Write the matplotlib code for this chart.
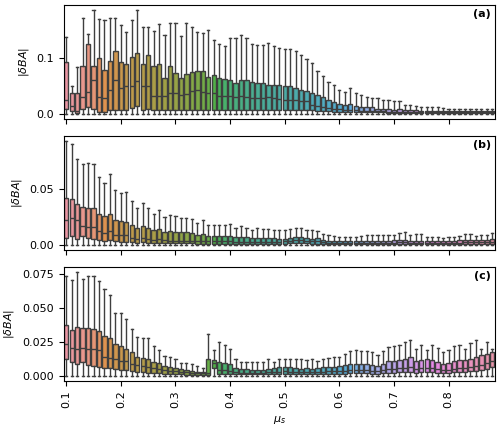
import matplotlib
matplotlib.use("Agg")
import matplotlib.pyplot as plt
import numpy as np
import seaborn as sns

# mu_s categories, 0.10 ... 0.88
mu_s = [f"{0.10 + 0.01 * i:.2f}" for i in range(79)]
tick_every = 10

# panel (a)
whishi_a = [0.138, 0.049, 0.083, 0.171, 0.143, 0.186, 0.170, 0.168, 0.171, 0.171,
            0.159, 0.146, 0.167, 0.186, 0.155, 0.156, 0.149, 0.160, 0.141, 0.162,
            0.162, 0.140, 0.162, 0.155, 0.146, 0.144, 0.150, 0.132, 0.125, 0.121,
            0.135, 0.135, 0.141, 0.135, 0.125, 0.123, 0.123, 0.126, 0.122, 0.118,
            0.116, 0.116, 0.113, 0.105, 0.098, 0.091, 0.076, 0.067, 0.057, 0.052,
            0.042, 0.039, 0.045, 0.036, 0.033, 0.029, 0.028, 0.027, 0.024, 0.024,
            0.022, 0.023, 0.016, 0.015, 0.013, 0.012, 0.012, 0.011, 0.011, 0.010,
            0.009, 0.009, 0.009, 0.008, 0.008, 0.008, 0.008, 0.008, 0.008]
q3_a = [0.092, 0.036, 0.036, 0.085, 0.125, 0.086, 0.099, 0.079, 0.095, 0.112,
        0.093, 0.088, 0.102, 0.108, 0.089, 0.105, 0.085, 0.088, 0.063, 0.086,
        0.073, 0.064, 0.071, 0.074, 0.077, 0.076, 0.065, 0.070, 0.064, 0.062,
        0.061, 0.055, 0.061, 0.061, 0.057, 0.054, 0.054, 0.052, 0.052, 0.051,
        0.049, 0.049, 0.046, 0.043, 0.040, 0.037, 0.034, 0.029, 0.024, 0.021,
        0.018, 0.016, 0.018, 0.013, 0.012, 0.011, 0.011, 0.009, 0.008, 0.008,
        0.007, 0.008, 0.006, 0.006, 0.006, 0.005, 0.005, 0.005, 0.005, 0.005,
        0.005, 0.005, 0.004, 0.004, 0.004, 0.004, 0.004, 0.004, 0.004]
med_a = [0.025, 0.013, 0.004, 0.029, 0.039, 0.061, 0.029, 0.028, 0.043, 0.060,
         0.046, 0.049, 0.049, 0.058, 0.049, 0.049, 0.032, 0.032, 0.032, 0.036,
         0.037, 0.033, 0.035, 0.040, 0.042, 0.039, 0.037, 0.036, 0.031, 0.031,
         0.031, 0.030, 0.031, 0.029, 0.028, 0.027, 0.027, 0.029, 0.027, 0.026,
         0.025, 0.025, 0.024, 0.023, 0.022, 0.016, 0.013, 0.012, 0.010, 0.008,
         0.008, 0.007, 0.007, 0.006, 0.005, 0.004, 0.004, 0.004, 0.004, 0.003,
         0.003, 0.003, 0.003, 0.003, 0.003, 0.003, 0.003, 0.003, 0.003, 0.003,
         0.002, 0.002, 0.002, 0.002, 0.002, 0.002, 0.002, 0.002, 0.002]
q1_a = [0.008, 0.004, 0.001, 0.008, 0.011, 0.009, 0.003, 0.003, 0.007, 0.007,
        0.007, 0.006, 0.010, 0.013, 0.007, 0.009, 0.006, 0.006, 0.006, 0.006,
        0.007, 0.007, 0.007, 0.007, 0.007, 0.007, 0.007, 0.007, 0.007, 0.007,
        0.007, 0.007, 0.007, 0.007, 0.007, 0.007, 0.007, 0.007, 0.007, 0.007,
        0.007, 0.007, 0.007, 0.007, 0.007, 0.006, 0.005, 0.004, 0.004, 0.003,
        0.003, 0.003, 0.003, 0.002, 0.002, 0.002, 0.002, 0.002, 0.002, 0.001,
        0.001, 0.001, 0.001, 0.001, 0.001, 0.001, 0.001, 0.001, 0.001, 0.001,
        0.001, 0.001, 0.001, 0.001, 0.001, 0.001, 0.001, 0.001, 0.001]

# panel (b)
whishi_b = [0.0937, 0.0907, 0.0771, 0.0732, 0.0738, 0.0732, 0.0611, 0.0560, 0.0636, 0.0491,
            0.0470, 0.0476, 0.0392, 0.0334, 0.0380, 0.0331, 0.0280, 0.0310, 0.0250, 0.0265,
            0.0256, 0.0244, 0.0244, 0.0235, 0.0199, 0.0226, 0.0175, 0.0175, 0.0175, 0.0175,
            0.0184, 0.0154, 0.0166, 0.0154, 0.0130, 0.0151, 0.0145, 0.0145, 0.0130, 0.0130,
            0.0130, 0.0145, 0.0151, 0.0151, 0.0136, 0.0130, 0.0123, 0.0093, 0.0084, 0.0075,
            0.0069, 0.0069, 0.0069, 0.0069, 0.0075, 0.0084, 0.0084, 0.0084, 0.0084, 0.0084,
            0.0090, 0.0105, 0.0114, 0.0084, 0.0099, 0.0093, 0.0069, 0.0069, 0.0069, 0.0063,
            0.0069, 0.0069, 0.0075, 0.0093, 0.0093, 0.0075, 0.0084, 0.0084, 0.0108]
q3_b = [0.0425, 0.0416, 0.0364, 0.0340, 0.0331, 0.0331, 0.0274, 0.0256, 0.0274, 0.0226,
        0.0214, 0.0205, 0.0175, 0.0151, 0.0169, 0.0151, 0.0136, 0.0139, 0.0114, 0.0123,
        0.0114, 0.0111, 0.0114, 0.0105, 0.0087, 0.0099, 0.0078, 0.0078, 0.0078, 0.0078,
        0.0081, 0.0069, 0.0069, 0.0069, 0.0057, 0.0063, 0.0063, 0.0063, 0.0063, 0.0054,
        0.0054, 0.0063, 0.0069, 0.0069, 0.0063, 0.0054, 0.0063, 0.0039, 0.0030, 0.0030,
        0.0030, 0.0030, 0.0030, 0.0030, 0.0030, 0.0033, 0.0033, 0.0033, 0.0033, 0.0033,
        0.0039, 0.0045, 0.0039, 0.0030, 0.0033, 0.0033, 0.0030, 0.0030, 0.0030, 0.0030,
        0.0030, 0.0030, 0.0039, 0.0045, 0.0039, 0.0039, 0.0039, 0.0039, 0.0054]
med_b = [0.0226, 0.0241, 0.0220, 0.0169, 0.0160, 0.0160, 0.0120, 0.0105, 0.0120, 0.0090,
         0.0084, 0.0084, 0.0060, 0.0048, 0.0063, 0.0048, 0.0039, 0.0048, 0.0039, 0.0036,
         0.0035, 0.0035, 0.0034, 0.0033, 0.0030, 0.0032, 0.0030, 0.0030, 0.0029, 0.0029,
         0.0029, 0.0028, 0.0028, 0.0027, 0.0026, 0.0026, 0.0026, 0.0025, 0.0025, 0.0025,
         0.0030, 0.0035, 0.0040, 0.0040, 0.0035, 0.0030, 0.0030, 0.0020, 0.0015, 0.0015,
         0.0015, 0.0015, 0.0015, 0.0015, 0.0015, 0.0015, 0.0015, 0.0015, 0.0015, 0.0015,
         0.0018, 0.0022, 0.0020, 0.0015, 0.0015, 0.0015, 0.0015, 0.0015, 0.0015, 0.0015,
         0.0015, 0.0015, 0.0018, 0.0020, 0.0020, 0.0020, 0.0020, 0.0020, 0.0025]
q1_b = [0.0063, 0.0075, 0.0048, 0.0075, 0.0063, 0.0054, 0.0039, 0.0033, 0.0039, 0.0030,
        0.0025, 0.0025, 0.0020, 0.0018, 0.0020, 0.0018, 0.0015, 0.0015, 0.0013, 0.0012,
        0.0012, 0.0012, 0.0011, 0.0011, 0.0010, 0.0010, 0.0010, 0.0010, 0.0010, 0.0010,
        0.0010, 0.0010, 0.0009, 0.0009, 0.0009, 0.0009, 0.0009, 0.0009, 0.0009, 0.0009,
        0.0010, 0.0012, 0.0012, 0.0012, 0.0012, 0.0010, 0.0010, 0.0008, 0.0006, 0.0006,
        0.0006, 0.0006, 0.0006, 0.0006, 0.0006, 0.0006, 0.0006, 0.0006, 0.0006, 0.0006,
        0.0007, 0.0008, 0.0008, 0.0006, 0.0006, 0.0006, 0.0006, 0.0006, 0.0006, 0.0006,
        0.0006, 0.0006, 0.0007, 0.0008, 0.0008, 0.0008, 0.0008, 0.0008, 0.0010]

# panel (c)
whishi_c = [0.0735, 0.0708, 0.0765, 0.0716, 0.0735, 0.0735, 0.0699, 0.0637, 0.0593, 0.0466,
            0.0466, 0.0422, 0.0343, 0.0287, 0.0275, 0.0275, 0.0218, 0.0189, 0.0145, 0.0140,
            0.0120, 0.0096, 0.0096, 0.0083, 0.0071, 0.0054, 0.0311, 0.0189, 0.0250, 0.0230,
            0.0194, 0.0123, 0.0098, 0.0098, 0.0098, 0.0103, 0.0103, 0.0123, 0.0103, 0.0127,
            0.0123, 0.0127, 0.0123, 0.0120, 0.0115, 0.0123, 0.0108, 0.0120, 0.0132, 0.0140,
            0.0140, 0.0159, 0.0184, 0.0189, 0.0184, 0.0181, 0.0176, 0.0152, 0.0184, 0.0213,
            0.0218, 0.0225, 0.0250, 0.0262, 0.0201, 0.0225, 0.0189, 0.0230, 0.0208, 0.0176,
            0.0189, 0.0218, 0.0225, 0.0194, 0.0243, 0.0262, 0.0201, 0.0250, 0.0201]
q3_c = [0.0377, 0.0341, 0.0360, 0.0353, 0.0353, 0.0343, 0.0328, 0.0292, 0.0275, 0.0233,
        0.0218, 0.0201, 0.0172, 0.0140, 0.0132, 0.0127, 0.0103, 0.0091, 0.0071, 0.0061,
        0.0059, 0.0047, 0.0042, 0.0037, 0.0029, 0.0029, 0.0127, 0.0115, 0.0098, 0.0091,
        0.0083, 0.0054, 0.0047, 0.0047, 0.0042, 0.0042, 0.0042, 0.0047, 0.0054, 0.0061,
        0.0066, 0.0061, 0.0054, 0.0049, 0.0054, 0.0049, 0.0054, 0.0061, 0.0066, 0.0066,
        0.0071, 0.0078, 0.0083, 0.0083, 0.0083, 0.0083, 0.0078, 0.0071, 0.0083, 0.0108,
        0.0108, 0.0115, 0.0120, 0.0135, 0.0108, 0.0115, 0.0123, 0.0115, 0.0103, 0.0083,
        0.0091, 0.0108, 0.0115, 0.0115, 0.0127, 0.0140, 0.0152, 0.0159, 0.0176]
med_c = [0.0233, 0.0208, 0.0201, 0.0208, 0.0201, 0.0194, 0.0189, 0.0135, 0.0132, 0.0123,
         0.0108, 0.0108, 0.0083, 0.0078, 0.0074, 0.0061, 0.0054, 0.0049, 0.0042, 0.0037,
         0.0034, 0.0029, 0.0025, 0.0022, 0.0017, 0.0017, 0.0020, 0.0095, 0.0040, 0.0040,
         0.0035, 0.0025, 0.0022, 0.0022, 0.0022, 0.0022, 0.0022, 0.0025, 0.0028, 0.0030,
         0.0032, 0.0030, 0.0028, 0.0026, 0.0028, 0.0026, 0.0028, 0.0030, 0.0032, 0.0032,
         0.0034, 0.0038, 0.0040, 0.0040, 0.0040, 0.0040, 0.0038, 0.0035, 0.0040, 0.0050,
         0.0050, 0.0055, 0.0058, 0.0062, 0.0050, 0.0055, 0.0058, 0.0055, 0.0048, 0.0040,
         0.0045, 0.0052, 0.0055, 0.0055, 0.0065, 0.0070, 0.0078, 0.0095, 0.0110]
q1_c = [0.0120, 0.0098, 0.0086, 0.0103, 0.0078, 0.0071, 0.0066, 0.0054, 0.0054, 0.0049,
        0.0042, 0.0042, 0.0034, 0.0029, 0.0025, 0.0022, 0.0020, 0.0018, 0.0015, 0.0012,
        0.0010, 0.0010, 0.0008, 0.0008, 0.0006, 0.0006, 0.0005, 0.0060, 0.0015, 0.0015,
        0.0012, 0.0010, 0.0010, 0.0010, 0.0010, 0.0010, 0.0010, 0.0011, 0.0012, 0.0012,
        0.0013, 0.0012, 0.0012, 0.0011, 0.0012, 0.0011, 0.0012, 0.0013, 0.0014, 0.0014,
        0.0015, 0.0016, 0.0017, 0.0017, 0.0017, 0.0017, 0.0016, 0.0015, 0.0017, 0.0022,
        0.0022, 0.0025, 0.0027, 0.0030, 0.0022, 0.0025, 0.0027, 0.0025, 0.0021, 0.0017,
        0.0020, 0.0025, 0.0027, 0.0027, 0.0032, 0.0036, 0.0042, 0.0050, 0.0066]

panels = [
    ("(a)", whishi_a, q3_a, med_a, q1_a, [0.0, 0.1], "{:.1f}"),
    ("(b)", whishi_b, q3_b, med_b, q1_b, [0.0, 0.05], "{:.2f}"),
    ("(c)", whishi_c, q3_c, med_c, q1_c, [0.0, 0.025, 0.05, 0.075], "{:.3f}"),
]

palette = [sns.desaturate(c, 0.75) for c in sns.husl_palette(len(mu_s), l=0.7)]
line_col = "#3f3f3f"

plt.rcParams["font.size"] = 8
fig, axes = plt.subplots(3, 1, figsize=(5, 4.28), dpi=100, sharex=True)
fig.subplots_adjust(left=0.127, right=0.99, top=0.989, bottom=0.11, hspace=0.15)

for ax, (tag, whi, q3, med, q1, yt, fmt) in zip(axes, panels):
    stats = [dict(whislo=0.0, q1=q1[i], med=med[i], q3=q3[i], whishi=whi[i])
             for i in range(len(mu_s))]
    bp = ax.bxp(stats, positions=np.arange(len(mu_s)), widths=0.8,
                showfliers=False, patch_artist=True, manage_ticks=False,
                boxprops=dict(edgecolor=line_col, linewidth=1.0),
                whiskerprops=dict(color=line_col, linewidth=1.0),
                capprops=dict(color=line_col, linewidth=1.0),
                medianprops=dict(color=line_col, linewidth=1.0))
    for patch, c in zip(bp["boxes"], palette):
        patch.set_facecolor(c)
    ax.set_xlim(-0.5, len(mu_s) - 0.5)
    ax.set_yticks(yt)
    ax.set_yticklabels([fmt.format(v) for v in yt])
    ax.set_ylabel(r"$|\delta BA|$")
    ax.text(0.99, 0.96, tag, transform=ax.transAxes, ha="right", va="top",
            fontweight="bold")

ticks = np.arange(0, len(mu_s), tick_every)
axes[-1].set_xticks(ticks)
axes[-1].set_xticklabels([mu_s[i][:3] for i in ticks])
axes[-1].tick_params(axis="x", labelrotation=90)
axes[-1].set_xlabel(r"$\mu_s$")

fig.savefig("out.png", dpi=100)
